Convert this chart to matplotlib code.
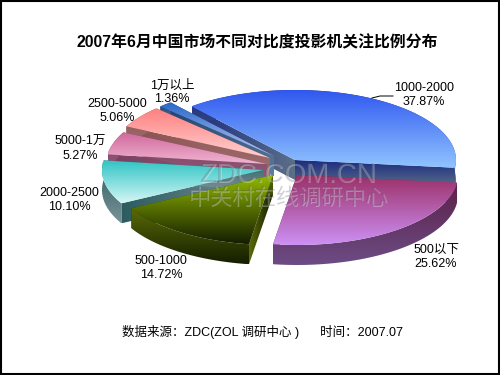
import numpy as np
import matplotlib
matplotlib.use("Agg")
import matplotlib.pyplot as plt
from matplotlib.path import Path
from matplotlib.patches import PathPatch, Rectangle

plt.rcParams['font.family'] = ['Liberation Sans', 'Noto Sans CJK SC', 'DejaVu Sans']

categories = ['1000-2000', '500以下', '500-1000', '2000-2500', '5000-1万', '2500-5000', '1万以上']
shares = [37.87, 25.62, 14.72, 10.10, 5.27, 5.06, 1.36]
title = '2007年6月中国市场不同对比度投影机关注比例分布'
footer = '数据来源：ZDC(ZOL 调研中心 )      时间：2007.07'

START = 130.0
RX, RY, DEPTH = 161, 70, 20
apex = [(295, 160), (297, 175), (273, 175), (263, 170), (267, 164), (270, 158), (274, 156)]
top_cols = ['#3058f0', '#9c3068', '#94bc00', '#30c4c4', '#d0689c', '#ff8080', '#2a68c8']
bot_cols = ['#90c4ff', '#cc90f4', '#141e00', '#d4f6f6', '#f0b4d0', '#ffd0d0', '#b8c8f0']
side_a = ['#1c2c80', '#5c2048', '#5a6a08', '#2c5c60', '#7a4060', '#8a5050', '#1c3c70']
side_b = ['#5c7088', '#6c4c84', '#141e00', '#7a9298', '#945c7c', '#a07070', '#6080a0']
draw_order = [0, 6, 5, 4, 3, 2, 1]
label_pos = [(424, 95), (436, 257), (161, 268), (69, 200), (80, 149), (117, 111), (172, 92)]

fig = plt.figure(figsize=(5, 3.75), dpi=100, facecolor='white')
ax = fig.add_axes([0, 0, 1, 1])
ax.set_xlim(0, 500)
ax.set_ylim(375, 0)
ax.axis('off')

def rgb(c):
    return np.array(matplotlib.colors.to_rgb(c))

def fill(poly, c0, c1, horizontal=False, z=1):
    poly = np.asarray(poly)
    path = Path(np.vstack([poly, poly[0]]), closed=True)
    patch = PathPatch(path, fc='none', ec='none', zorder=z)
    ax.add_patch(patch)
    t = np.linspace(0, 1, 64)
    grad = np.outer(1 - t, rgb(c0)) + np.outer(t, rgb(c1))
    img = grad[None, :, :] if horizontal else grad[:, None, :]
    x0, y0 = poly.min(axis=0)
    x1, y1 = poly.max(axis=0)
    im = ax.imshow(img, extent=(x0, x1, y1, y0), aspect='auto', zorder=z,
                   interpolation='bilinear')
    im.set_clip_path(patch)

angle = START
spans = []
for s in shares:
    sweep = s / sum(shares) * 360
    spans.append((angle, angle - sweep))
    angle -= sweep

z = 1
for i in draw_order:
    a0, a1 = spans[i]
    ax_, ay_ = apex[i]
    th = np.radians(np.linspace(a0, a1, 90))
    arc = np.column_stack([ax_ + RX * np.cos(th), ay_ - RY * np.sin(th)])
    c = np.array([[ax_, ay_]])
    d = np.array([0, DEPTH])
    # radial faces
    fill([arc[0], c[0], c[0] + d, arc[0] + d], side_a[i], side_b[i], True, z)
    fill([c[0], arc[-1], arc[-1] + d, c[0] + d], side_a[i], side_b[i], False, z)
    # rim
    fill(np.vstack([arc, (arc + d)[::-1]]), side_a[i], side_b[i], False, z)
    # top
    fill(np.vstack([c, arc]), top_cols[i], bot_cols[i], False, z + 0.5)
    z += 1

ax.plot([372, 380, 393], [98, 96, 96], color='black', lw=0.7, zorder=20)

for i, name in enumerate(categories):
    ax.text(label_pos[i][0], label_pos[i][1], f'{name}\n{shares[i]:.2f}%', ha='center',
            va='center', fontsize=9, linespacing=1.15, zorder=20, color='black')

ax.text(257, 43, title, ha='center', va='center', fontsize=11.4, fontweight='bold',
        color='black', family=['Liberation Sans', 'Noto Sans CJK SC'], zorder=20)
ax.text(262, 332, footer, ha='center', va='center', fontsize=9, color='black', zorder=20)

for dx, col, al in [(1, 'white', 0.3), (0, '#555566', 0.28)]:
    ax.text(288 + dx, 175 + dx, 'ZDC.COM.CN', ha='center', va='center', fontsize=20,
            color=col, alpha=al, zorder=15)
    ax.text(288 + dx, 198 + dx, '中关村在线调研中心', ha='center', va='center', fontsize=16,
            color=col, alpha=al, zorder=15)

ax.add_patch(Rectangle((0.5, 0.5), 498.5, 373.5, fc='none', ec='black', lw=1.5, zorder=30))
fig.savefig('out.png', dpi=100, facecolor='white')
